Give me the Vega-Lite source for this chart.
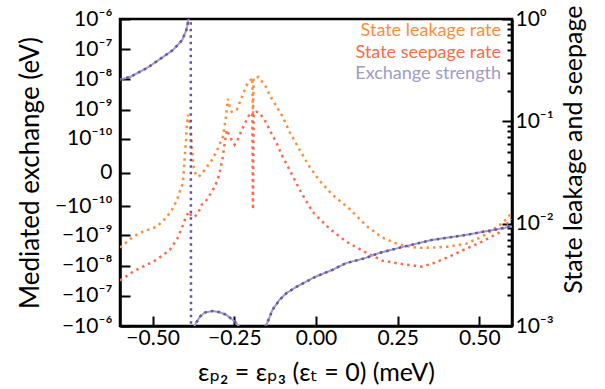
{
  "$schema": "https://vega.github.io/schema/vega-lite/v6.json",
  "width": 392,
  "height": 307,
  "autosize": {"type": "none"},
  "padding": {"left": 120, "top": 19, "right": 93, "bottom": 63},
  "config": {
    "font": "Lato",
    "view": {"stroke": "black", "strokeWidth": 2.5},
    "axis": {
      "grid": false,
      "domainColor": "black",
      "domainWidth": 2.5,
      "tickColor": "black",
      "tickWidth": 2,
      "labelColor": "black",
      "titleColor": "black",
      "labelFont": "Lato, DejaVu Sans",
      "titleFont": "Lato, DejaVu Sans",
      "titleFontWeight": "normal",
      "labelFontSize": 21,
      "titleFontSize": 25,
      "labelFlush": false,
      "labelOverlap": false
    }
  },
  "datasets": {
    "rates": [
      {"x": -0.600, "v": 0.00583, "series": "State leakage rate"},
      {"x": -0.560, "v": 0.00746, "series": "State leakage rate"},
      {"x": -0.530, "v": 0.00835, "series": "State leakage rate"},
      {"x": -0.487, "v": 0.00935, "series": "State leakage rate"},
      {"x": -0.456, "v": 0.0117, "series": "State leakage rate"},
      {"x": -0.441, "v": 0.0137, "series": "State leakage rate"},
      {"x": -0.426, "v": 0.0168, "series": "State leakage rate"},
      {"x": -0.417, "v": 0.0205, "series": "State leakage rate"},
      {"x": -0.408, "v": 0.0246, "series": "State leakage rate"},
      {"x": -0.405, "v": 0.0321, "series": "State leakage rate"},
      {"x": -0.402, "v": 0.044, "series": "State leakage rate"},
      {"x": -0.398, "v": 0.0645, "series": "State leakage rate"},
      {"x": -0.395, "v": 0.0945, "series": "State leakage rate"},
      {"x": -0.392, "v": 0.116, "series": "State leakage rate"},
      {"x": -0.386, "v": 0.0967, "series": "State leakage rate"},
      {"x": -0.383, "v": 0.0773, "series": "State leakage rate"},
      {"x": -0.380, "v": 0.0564, "series": "State leakage rate"},
      {"x": -0.377, "v": 0.044, "series": "State leakage rate"},
      {"x": -0.374, "v": 0.0352, "series": "State leakage rate"},
      {"x": -0.368, "v": 0.0301, "series": "State leakage rate"},
      {"x": -0.359, "v": 0.0287, "series": "State leakage rate"},
      {"x": -0.347, "v": 0.0315, "series": "State leakage rate"},
      {"x": -0.334, "v": 0.036, "series": "State leakage rate"},
      {"x": -0.322, "v": 0.0403, "series": "State leakage rate"},
      {"x": -0.313, "v": 0.0451, "series": "State leakage rate"},
      {"x": -0.301, "v": 0.0539, "series": "State leakage rate"},
      {"x": -0.285, "v": 0.0706, "series": "State leakage rate"},
      {"x": -0.276, "v": 0.108, "series": "State leakage rate"},
      {"x": -0.270, "v": 0.166, "series": "State leakage rate"},
      {"x": -0.264, "v": 0.138, "series": "State leakage rate"},
      {"x": -0.258, "v": 0.124, "series": "State leakage rate"},
      {"x": -0.243, "v": 0.129, "series": "State leakage rate"},
      {"x": -0.234, "v": 0.151, "series": "State leakage rate"},
      {"x": -0.221, "v": 0.194, "series": "State leakage rate"},
      {"x": -0.212, "v": 0.227, "series": "State leakage rate"},
      {"x": -0.200, "v": 0.254, "series": "State leakage rate"},
      {"x": -0.195, "v": 0.266, "series": "State leakage rate"},
      {"x": -0.193, "v": 0.111, "series": "State leakage rate"},
      {"x": -0.191, "v": 0.266, "series": "State leakage rate"},
      {"x": -0.182, "v": 0.266, "series": "State leakage rate"},
      {"x": -0.176, "v": 0.272, "series": "State leakage rate"},
      {"x": -0.163, "v": 0.238, "series": "State leakage rate"},
      {"x": -0.151, "v": 0.212, "series": "State leakage rate"},
      {"x": -0.142, "v": 0.181, "series": "State leakage rate"},
      {"x": -0.124, "v": 0.145, "series": "State leakage rate"},
      {"x": -0.102, "v": 0.111, "series": "State leakage rate"},
      {"x": -0.081, "v": 0.079, "series": "State leakage rate"},
      {"x": -0.050, "v": 0.0527, "series": "State leakage rate"},
      {"x": -0.020, "v": 0.036, "series": "State leakage rate"},
      {"x": 0.011, "v": 0.0263, "series": "State leakage rate"},
      {"x": 0.050, "v": 0.0192, "series": "State leakage rate"},
      {"x": 0.102, "v": 0.014, "series": "State leakage rate"},
      {"x": 0.154, "v": 0.00955, "series": "State leakage rate"},
      {"x": 0.203, "v": 0.0073, "series": "State leakage rate"},
      {"x": 0.255, "v": 0.00624, "series": "State leakage rate"},
      {"x": 0.307, "v": 0.00583, "series": "State leakage rate"},
      {"x": 0.356, "v": 0.00583, "series": "State leakage rate"},
      {"x": 0.408, "v": 0.00597, "series": "State leakage rate"},
      {"x": 0.460, "v": 0.00638, "series": "State leakage rate"},
      {"x": 0.508, "v": 0.00746, "series": "State leakage rate"},
      {"x": 0.560, "v": 0.00955, "series": "State leakage rate"},
      {"x": 0.585, "v": 0.0112, "series": "State leakage rate"},
      {"x": 0.597, "v": 0.0125, "series": "State leakage rate"},
      {"x": -0.600, "v": 0.00278, "series": "State seepage rate"},
      {"x": -0.560, "v": 0.0034, "series": "State seepage rate"},
      {"x": -0.530, "v": 0.0038, "series": "State seepage rate"},
      {"x": -0.487, "v": 0.00445, "series": "State seepage rate"},
      {"x": -0.447, "v": 0.00557, "series": "State seepage rate"},
      {"x": -0.423, "v": 0.0073, "series": "State seepage rate"},
      {"x": -0.408, "v": 0.00955, "series": "State seepage rate"},
      {"x": -0.398, "v": 0.0117, "series": "State seepage rate"},
      {"x": -0.389, "v": 0.0131, "series": "State seepage rate"},
      {"x": -0.380, "v": 0.0117, "series": "State seepage rate"},
      {"x": -0.371, "v": 0.0117, "series": "State seepage rate"},
      {"x": -0.362, "v": 0.0125, "series": "State seepage rate"},
      {"x": -0.350, "v": 0.0153, "series": "State seepage rate"},
      {"x": -0.340, "v": 0.016, "series": "State seepage rate"},
      {"x": -0.331, "v": 0.0179, "series": "State seepage rate"},
      {"x": -0.319, "v": 0.0205, "series": "State seepage rate"},
      {"x": -0.310, "v": 0.023, "series": "State seepage rate"},
      {"x": -0.301, "v": 0.0269, "series": "State seepage rate"},
      {"x": -0.295, "v": 0.0315, "series": "State seepage rate"},
      {"x": -0.285, "v": 0.0451, "series": "State seepage rate"},
      {"x": -0.279, "v": 0.0631, "series": "State seepage rate"},
      {"x": -0.273, "v": 0.0826, "series": "State seepage rate"},
      {"x": -0.264, "v": 0.0706, "series": "State seepage rate"},
      {"x": -0.249, "v": 0.059, "series": "State seepage rate"},
      {"x": -0.240, "v": 0.066, "series": "State seepage rate"},
      {"x": -0.224, "v": 0.0865, "series": "State seepage rate"},
      {"x": -0.215, "v": 0.0989, "series": "State seepage rate"},
      {"x": -0.206, "v": 0.113, "series": "State seepage rate"},
      {"x": -0.195, "v": 0.121, "series": "State seepage rate"},
      {"x": -0.193, "v": 0.0137, "series": "State seepage rate"},
      {"x": -0.191, "v": 0.121, "series": "State seepage rate"},
      {"x": -0.182, "v": 0.124, "series": "State seepage rate"},
      {"x": -0.173, "v": 0.121, "series": "State seepage rate"},
      {"x": -0.157, "v": 0.103, "series": "State seepage rate"},
      {"x": -0.142, "v": 0.0826, "series": "State seepage rate"},
      {"x": -0.121, "v": 0.0617, "series": "State seepage rate"},
      {"x": -0.102, "v": 0.0451, "series": "State seepage rate"},
      {"x": -0.081, "v": 0.0336, "series": "State seepage rate"},
      {"x": -0.050, "v": 0.0215, "series": "State seepage rate"},
      {"x": -0.011, "v": 0.0131, "series": "State seepage rate"},
      {"x": 0.041, "v": 0.00894, "series": "State seepage rate"},
      {"x": 0.093, "v": 0.00667, "series": "State seepage rate"},
      {"x": 0.142, "v": 0.00545, "series": "State seepage rate"},
      {"x": 0.203, "v": 0.00435, "series": "State seepage rate"},
      {"x": 0.255, "v": 0.00407, "series": "State seepage rate"},
      {"x": 0.322, "v": 0.0038, "series": "State seepage rate"},
      {"x": 0.356, "v": 0.00407, "series": "State seepage rate"},
      {"x": 0.408, "v": 0.00476, "series": "State seepage rate"},
      {"x": 0.460, "v": 0.0057, "series": "State seepage rate"},
      {"x": 0.508, "v": 0.00667, "series": "State seepage rate"},
      {"x": 0.560, "v": 0.00817, "series": "State seepage rate"},
      {"x": 0.585, "v": 0.01, "series": "State seepage rate"},
      {"x": 0.597, "v": 0.0112, "series": "State seepage rate"}
    ],
    "exch": [
      {"x": -0.600, "v": 1.0e-8, "seg": 1, "series": "Exchange strength"},
      {"x": -0.569, "v": 1.21e-8, "seg": 1, "series": "Exchange strength"},
      {"x": -0.517, "v": 2.4e-8, "seg": 1, "series": "Exchange strength"},
      {"x": -0.469, "v": 5.5e-8, "seg": 1, "series": "Exchange strength"},
      {"x": -0.438, "v": 9.4e-8, "seg": 1, "series": "Exchange strength"},
      {"x": -0.410, "v": 2.0e-7, "seg": 1, "series": "Exchange strength"},
      {"x": -0.397, "v": 4.3e-7, "seg": 1, "series": "Exchange strength"},
      {"x": -0.391, "v": 8.6e-7, "seg": 1, "series": "Exchange strength"},
      {"x": -0.3875, "v": 2e-6, "seg": 1, "series": "Exchange strength"},
      {"x": -0.3835, "v": 1e-4, "seg": 1, "series": "Exchange strength"},
      {"x": -0.3825, "v": -1e-4, "seg": 2, "series": "Exchange strength"},
      {"x": -0.378, "v": -2e-6, "seg": 2, "series": "Exchange strength"},
      {"x": -0.371, "v": -9.3e-7, "seg": 2, "series": "Exchange strength"},
      {"x": -0.356, "v": -5.0e-7, "seg": 2, "series": "Exchange strength"},
      {"x": -0.341, "v": -3.6e-7, "seg": 2, "series": "Exchange strength"},
      {"x": -0.316, "v": -3.2e-7, "seg": 2, "series": "Exchange strength"},
      {"x": -0.295, "v": -3.5e-7, "seg": 2, "series": "Exchange strength"},
      {"x": -0.274, "v": -4.3e-7, "seg": 2, "series": "Exchange strength"},
      {"x": -0.243, "v": -8.0e-7, "seg": 2, "series": "Exchange strength"},
      {"x": -0.225, "v": -1.6e-6, "seg": 2, "series": "Exchange strength"},
      {"x": -0.200, "v": -3e-6, "seg": 2, "series": "Exchange strength"},
      {"x": -0.175, "v": -2e-6, "seg": 2, "series": "Exchange strength"},
      {"x": -0.152, "v": -9.3e-7, "seg": 2, "series": "Exchange strength"},
      {"x": -0.133, "v": -2.9e-7, "seg": 2, "series": "Exchange strength"},
      {"x": -0.112, "v": -1.38e-7, "seg": 2, "series": "Exchange strength"},
      {"x": -0.090, "v": -8.1e-8, "seg": 2, "series": "Exchange strength"},
      {"x": -0.060, "v": -5.1e-8, "seg": 2, "series": "Exchange strength"},
      {"x": 0.000, "v": -2.3e-8, "seg": 2, "series": "Exchange strength"},
      {"x": 0.049, "v": -1.41e-8, "seg": 2, "series": "Exchange strength"},
      {"x": 0.092, "v": -8.3e-9, "seg": 2, "series": "Exchange strength"},
      {"x": 0.153, "v": -5.6e-9, "seg": 2, "series": "Exchange strength"},
      {"x": 0.193, "v": -3.85e-9, "seg": 2, "series": "Exchange strength"},
      {"x": 0.254, "v": -2.6e-9, "seg": 2, "series": "Exchange strength"},
      {"x": 0.354, "v": -1.43e-9, "seg": 2, "series": "Exchange strength"},
      {"x": 0.458, "v": -9.7e-10, "seg": 2, "series": "Exchange strength"},
      {"x": 0.559, "v": -6.1e-10, "seg": 2, "series": "Exchange strength"},
      {"x": 0.600, "v": -5.0e-10, "seg": 2, "series": "Exchange strength"}
    ]
  },
  "layer": [
    {
      "data": {"name": "rates"},
      "mark": {"type": "line", "strokeWidth": 2.5, "strokeDash": [2.5, 4], "clip": true},
      "encoding": {
        "x": {
          "field": "x", "type": "quantitative",
          "scale": {"domain": [-0.6, 0.6], "nice": false, "zero": false},
          "axis": {
            "orient": "bottom",
            "values": [-0.5, -0.25, 0, 0.25, 0.5],
            "labelExpr": "replace(format(datum.value, '.2f'), '-', '−')",
            "tickSize": -10,
            "labelPadding": 11,
            "titlePadding": 12,
            "title": "εₚ₂ = εₚ₃ (εₜ = 0) (meV)"
          }
        },
        "y": {
          "field": "v", "type": "quantitative",
          "scale": {"type": "log", "domain": [0.001, 1], "nice": false},
          "axis": {
            "orient": "right",
            "values": [0.001, 0.002, 0.003, 0.004, 0.005, 0.006, 0.007, 0.008, 0.009, 0.01, 0.02, 0.03, 0.04, 0.05, 0.06, 0.07, 0.08, 0.09, 0.1, 0.2, 0.3, 0.4, 0.5, 0.6, 0.7, 0.8, 0.9, 1],
            "labelExpr": "datum.value == 1 ? '10⁰' : datum.value == 0.1 ? '10⁻¹' : datum.value == 0.01 ? '10⁻²' : datum.value == 0.001 ? '10⁻³' : ''",
            "tickSize": {"condition": {"test": "datum.value == 1 || datum.value == 0.1 || datum.value == 0.01 || datum.value == 0.001", "value": -10}, "value": -5},
            "labelPadding": 13,
            "title": "State leakage and seepage",
            "titleAngle": 270,
            "titleBaseline": "top",
            "titleAlign": "right",
            "titleY": -14,
            "titlePadding": 8
          }
        },
        "color": {
          "field": "series", "type": "nominal",
          "scale": {"domain": ["State leakage rate", "State seepage rate", "Exchange strength"], "range": ["#fd8d3c", "#fb6a4a", "#9e9ac8"]},
          "legend": {
            "orient": "none",
            "legendX": 363,
            "legendY": 3,
            "title": null,
            "symbolSize": 0,
            "symbolStrokeWidth": 0,
            "symbolOpacity": 0,
            "labelOffset": 0,
            "labelAlign": "right",
            "labelFontSize": 18,
            "labelFont": "Lato",
            "rowPadding": 3.5,
            "padding": 0,
            "labelColor": {"expr": "datum.value == 'State leakage rate' ? '#fd8d3c' : datum.value == 'State seepage rate' ? '#fb6a4a' : '#9e9ac8'"}
          }
        }
      }
    },
    {
      "data": {"name": "exch"},
      "encoding": {
        "x": {"field": "x", "type": "quantitative", "scale": {"domain": [-0.6, 0.6], "nice": false, "zero": false}},
        "y": {
          "field": "v", "type": "quantitative",
          "scale": {"type": "symlog", "constant": 8.4e-12, "domain": [-1e-6, 1e-6], "nice": false, "zero": false},
          "axis": {
            "orient": "left",
            "values": [-1e-6, -1e-7, -1e-8, -1e-9, -1e-10, 0, 1e-10, 1e-9, 1e-8, 1e-7, 1e-6],
            "labelExpr": "datum.value == 0 ? '0' : (datum.value < 0 ? '−' : '') + '10' + ['⁰','¹','²','³','⁴','⁵','⁻⁶','⁻⁷','⁻⁸','⁻⁹','⁻¹⁰'][round(-log(abs(datum.value))/LN10)]",
            "tickSize": -10,
            "labelPadding": 18,
            "titlePadding": 11,
            "titleFontSize": 26,
            "title": "Mediated exchange (eV)"
          }
        }
      },
      "layer": [
        {
          "mark": {"type": "line", "strokeWidth": 2, "clip": true},
          "encoding": {
            "color": {"field": "series", "type": "nominal"},
            "detail": {"field": "seg", "type": "nominal"}
          }
        },
        {
          "mark": {"type": "line", "strokeWidth": 2.5, "strokeDash": [2.5, 4], "color": "#6a51a3", "clip": true},
          "encoding": {}
        }
      ]
    }
  ],
  "resolve": {"scale": {"y": "independent"}}
}
